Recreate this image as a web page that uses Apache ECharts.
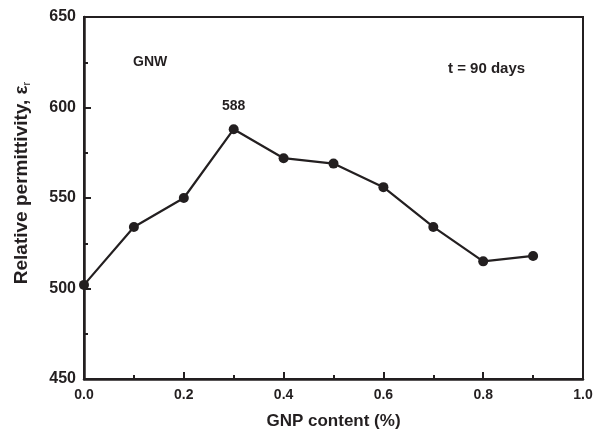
<!DOCTYPE html>
<html><head><meta charset="utf-8">
<script src="https://cdn.jsdelivr.net/npm/echarts@6/dist/echarts.min.js"></script>
<style>html,body{margin:0;padding:0;background:#fff}#c{width:602px;height:435px}</style>
</head><body><div id="c"></div>
<script>
const gnpContent = [0.0, 0.1, 0.2, 0.3, 0.4, 0.5, 0.6, 0.7, 0.8, 0.9];
const permittivity = [502, 534, 550, 588, 572, 569, 556, 534, 515, 518];
const peakLabel = '588';
const sampleLabel = 'GNW';
const timeLabel = 't = 90 days';

const col = '#231f20';
const font = 'Liberation Sans, Arial, sans-serif';
const chart = echarts.init(document.getElementById('c'), null, {renderer: 'canvas'});
const data = gnpContent.map((x, i) => {
  const d = {value: [x, permittivity[i]]};
  if (String(permittivity[i]) === peakLabel) {
    d.label = {show: true, position: 'top', distance: 11, formatter: peakLabel,
      color: col, fontFamily: font, fontWeight: 'bold', fontSize: 14};
  }
  return d;
});
chart.setOption({
  animation: false,
  grid: {left: 84, right: 19, top: 17, bottom: 56, show: true, borderColor: col, borderWidth: 2, backgroundColor: 'transparent'},
  xAxis: {
    type: 'value', min: 0, max: 1, interval: 0.2,
    name: 'GNP content (%)', nameLocation: 'middle', nameGap: 34,
    nameTextStyle: {color: col, fontFamily: font, fontWeight: 'bold', fontSize: 17},
    axisLine: {show: true, lineStyle: {color: col, width: 2.5}},
    axisTick: {show: true, inside: true, length: 7, lineStyle: {color: col, width: 2}},
    minorTick: {show: true, splitNumber: 2, length: 4, lineStyle: {color: col, width: 2}},
    axisLabel: {color: col, fontFamily: font, fontWeight: 'bold', fontSize: 14, margin: 9,
      formatter: v => v.toFixed(1)},
    splitLine: {show: false}
  },
  yAxis: {
    type: 'value', min: 450, max: 650, interval: 50,
    name: '{a|Relative permittivity, ε}{s|r}', nameLocation: 'middle', nameGap: 52, nameRotate: 90,
    nameTextStyle: {color: col, fontFamily: font, fontWeight: 'bold', fontSize: 19, padding: [0, 0, 0, 30],
      rich: {a: {color: col, fontFamily: font, fontWeight: 'bold', fontSize: 19},
             s: {color: col, fontFamily: font, fontWeight: 'normal', fontSize: 11, verticalAlign: 'bottom', padding: [10, 0, 0, 0]}}},
    axisLine: {show: true, lineStyle: {color: col, width: 2.5}},
    axisTick: {show: true, inside: true, length: 7, lineStyle: {color: col, width: 2}},
    minorTick: {show: true, splitNumber: 2, length: 4, lineStyle: {color: col, width: 2}},
    axisLabel: {color: col, fontFamily: font, fontWeight: 'bold', fontSize: 16, margin: 8},
    splitLine: {show: false}
  },
  graphic: [
    {type: 'text', left: 133, top: 55, style: {text: sampleLabel, fill: col, font: 'bold 14px ' + font}},
    {type: 'text', left: 448, top: 61, style: {text: timeLabel, fill: col, font: 'bold 15px ' + font}}
  ],
  series: [{
    type: 'line', data: data, symbol: 'circle', symbolSize: 10,
    lineStyle: {color: col, width: 2.2}, itemStyle: {color: col}
  }]
});
</script></body></html>
